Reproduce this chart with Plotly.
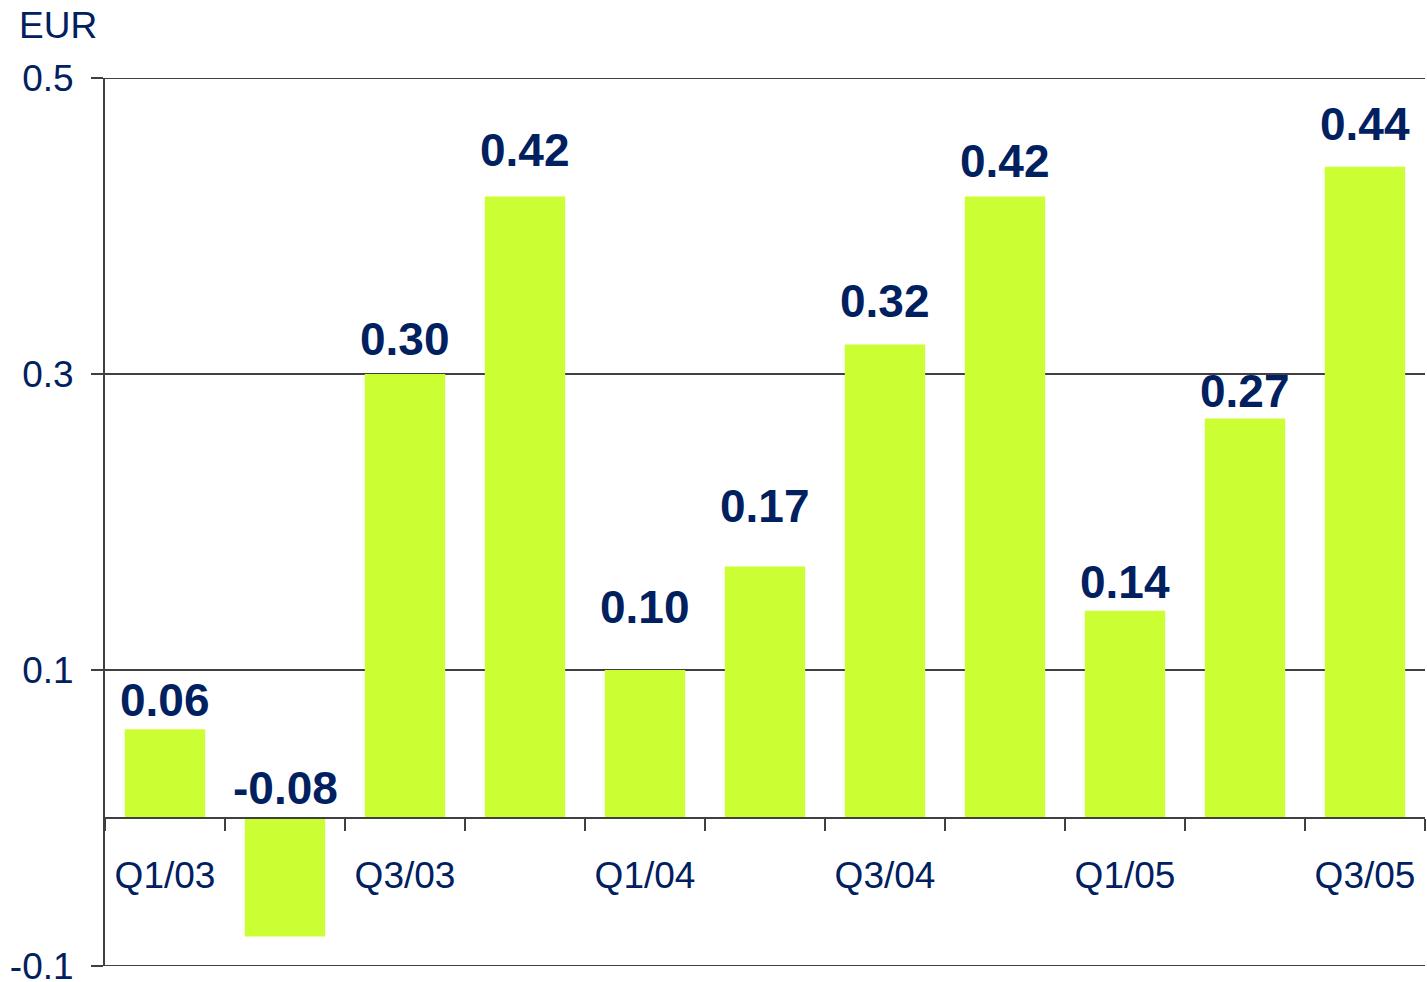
import plotly.graph_objects as go

# Quarterly earnings per share, EUR
quarters = ["Q1/03", "Q2/03", "Q3/03", "Q4/03", "Q1/04", "Q2/04",
            "Q3/04", "Q4/04", "Q1/05", "Q2/05", "Q3/05"]
eps = [0.06, -0.08, 0.30, 0.42, 0.10, 0.17, 0.32, 0.42, 0.14, 0.27, 0.44]
quarter_labels = ["Q1/03", "", "Q3/03", "", "Q1/04", "", "Q3/04", "",
                  "Q1/05", "", "Q3/05"]
y_ticks = [-0.1, 0.1, 0.3, 0.5]
y_tick_labels = ["-0.1", "0.1", "0.3", "0.5"]

# label gaps above each bar (px)
label_gap = [12, 13, 18, 29, 46, 43, 26, 18, 12, 10, 26]

NAVY = "#002060"
LINE = "#404040"
BAR = "#ccff33"
FONT = "Liberation Sans, Arial, sans-serif"

Y_MIN, Y_MAX = y_ticks[0], y_ticks[-1]

fig = go.Figure()
fig.add_trace(go.Bar(x=quarters, y=eps, marker=dict(color=BAR, line=dict(width=0)),
                     hoverinfo="x+y"))

annotations = []
for q, v, g in zip(quarters, eps, label_gap):
    annotations.append(dict(
        x=q, y=max(v, 0), xref="x", yref="y", text=f"{v:.2f}",
        showarrow=False, xanchor="center", yanchor="bottom", yshift=g - 11,
        font=dict(family=FONT, size=46, color=NAVY, weight="bold"),
    ))
annotations.append(dict(
    x=0, y=1, xref="paper", yref="paper", text="EUR", showarrow=False,
    xanchor="left", yanchor="middle", xshift=-88, yshift=53,
    font=dict(family=FONT, size=37, color=NAVY),
))

# grid lines at the top and bottom of the value range
edge_lines = [
    dict(type="line", xref="paper", x0=0, x1=1, yref="y", y0=yv, y1=yv,
         line=dict(color=LINE, width=2), layer="below")
    for yv in (Y_MIN, Y_MAX)
]

fig.update_layout(
    width=1427, height=982,
    margin=dict(l=105, r=2, t=78, b=16, autoexpand=False),
    paper_bgcolor="white", plot_bgcolor="white",
    bargap=0.33, showlegend=False,
    annotations=annotations,
    shapes=edge_lines,
    font=dict(family=FONT, size=37, color=NAVY),
    xaxis=dict(
        type="category", anchor="free",
        position=(0 - Y_MIN) / (Y_MAX - Y_MIN),
        showline=True, linecolor=LINE, linewidth=2,
        ticks="outside", ticklen=12, tickwidth=2, tickcolor=LINE,
        tickson="boundaries", showgrid=False, automargin=False,
        tickmode="array", tickvals=quarters, ticktext=quarter_labels,
        ticklabelstandoff=25,
        tickfont=dict(family=FONT, size=37, color=NAVY),
    ),
    yaxis=dict(
        range=[Y_MIN, Y_MAX], domain=[0, 1],
        showline=True, linecolor=LINE, linewidth=2,
        ticks="outside", ticklen=12, tickwidth=2, tickcolor=LINE,
        tickmode="array", tickvals=y_ticks, ticktext=y_tick_labels,
        showgrid=True, gridcolor=LINE, gridwidth=2, zeroline=False,
        ticklabelstandoff=10, ticklabeloverflow="allow", automargin=False,
        tickfont=dict(family=FONT, size=37, color=NAVY),
    ),
)

fig.write_html("out.html")
